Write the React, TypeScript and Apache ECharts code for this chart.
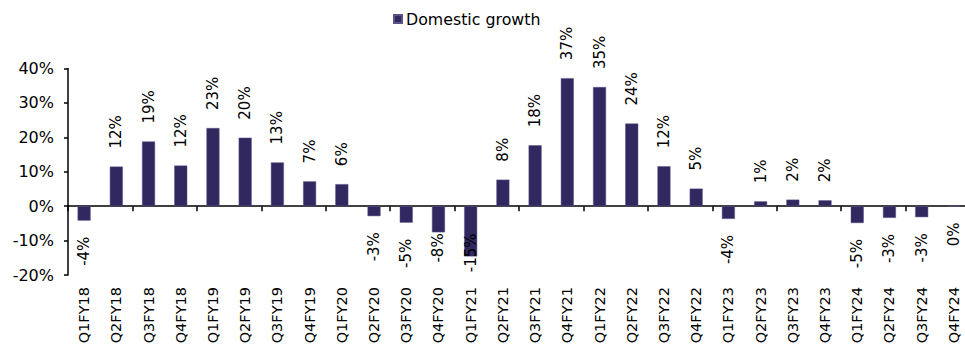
import React, { useEffect, useRef } from "react";
import * as echarts from "echarts";

const categories = [
  "Q1FY18", "Q2FY18", "Q3FY18", "Q4FY18",
  "Q1FY19", "Q2FY19", "Q3FY19", "Q4FY19",
  "Q1FY20", "Q2FY20", "Q3FY20", "Q4FY20",
  "Q1FY21", "Q2FY21", "Q3FY21", "Q4FY21",
  "Q1FY22", "Q2FY22", "Q3FY22", "Q4FY22",
  "Q1FY23", "Q2FY23", "Q3FY23", "Q4FY23",
  "Q1FY24", "Q2FY24", "Q3FY24", "Q4FY24",
];

// Domestic growth, % YoY
const domesticGrowth = [
  -4.2, 11.5, 18.8, 11.8,
  22.7, 19.9, 12.7, 7.2,
  6.4, -2.9, -4.8, -7.6,
  -14.6, 7.7, 17.7, 37.2,
  34.6, 24.0, 11.6, 5.1,
  -3.7, 1.4, 1.9, 1.7,
  -4.9, -3.4, -3.2, 0,
];

const yTicks = { min: -20, max: 40, interval: 10 };

const FONT = "DejaVu Sans, Verdana, sans-serif";
const BAR = "#312860";

// labels of deep negative bars are pulled back inside the plot
const negLabelDistance: Record<string, number> = { Q4FY20: 1, Q1FY21: -23 };

export default function App() {
  const ref = useRef<HTMLDivElement>(null);

  useEffect(() => {
    document.body.style.margin = "0";
    if (!ref.current) return;
    const chart = echarts.init(ref.current, undefined, { renderer: "svg" });

    const data = domesticGrowth.map((v, i) => {
      const neg = v <= 0;
      const cat = categories[i];
      return {
        value: v,
        label: neg
          ? {
              position: "bottom",
              align: "right",
              distance: negLabelDistance[cat] ?? 16,
            }
          : { position: "top", align: "left", distance: 18 },
      };
    });

    chart.setOption({
      animation: false,
      textStyle: { fontFamily: FONT },
      legend: {
        data: ["Domestic growth"],
        left: 388,
        top: 6,
        icon: "rect",
        itemWidth: 8,
        itemHeight: 8,
        itemGap: 4,
        textStyle: { fontFamily: FONT, fontSize: 15.8, color: "#000", padding: [0, 0, 0, -1] },
      },
      grid: {
        left: 68,
        top: 68.5,
        width: 902,
        height: 206.5,
        containLabel: false,
        outerBoundsMode: "none",
      },
      xAxis: [
        {
          // zero line with the category ticks
          type: "category",
          data: categories,
          boundaryGap: true,
          axisLine: { onZero: true, lineStyle: { color: "#000", width: 1.5 } },
          axisTick: { show: true, inside: false, length: 5, lineStyle: { color: "#000", width: 1.5 } },
          axisLabel: { show: false },
          splitLine: { show: false },
        },
        {
          // category names along the bottom of the plot
          type: "category",
          data: categories,
          position: "bottom",
          boundaryGap: true,
          axisLine: { show: false, onZero: false },
          axisTick: { show: false },
          axisLabel: {
            rotate: 90,
            interval: 0,
            margin: 12,
            fontFamily: FONT,
            fontSize: 14.5,
            color: "#000",
          },
          splitLine: { show: false },
        },
      ],
      yAxis: {
        type: "value",
        min: yTicks.min,
        max: yTicks.max,
        interval: yTicks.interval,
        axisLine: { show: true, lineStyle: { color: "#000", width: 1.5 } },
        axisTick: { show: true, inside: false, length: 4, lineStyle: { color: "#000", width: 1.5 } },
        axisLabel: {
          formatter: (v: number) => `${v}%`,
          margin: 14,
          fontFamily: FONT,
          fontSize: 16,
          color: "#000",
        },
        splitLine: { show: false },
      },
      series: [
        {
          name: "Domestic growth",
          type: "bar",
          xAxisIndex: 0,
          data,
          barWidth: 13,
          itemStyle: { color: BAR, borderColor: "#5a5388", borderWidth: 0.5 },
          label: {
            show: true,
            rotate: 90,
            verticalAlign: "middle",
            fontFamily: FONT,
            fontSize: 15,
            color: "#000",
            formatter: (p: any) => `${Math.round(p.value) + 0}%`,
          },
        },
      ],
    });

    return () => chart.dispose();
  }, []);

  return <div ref={ref} style={{ width: 965, height: 347 }} />;
}
